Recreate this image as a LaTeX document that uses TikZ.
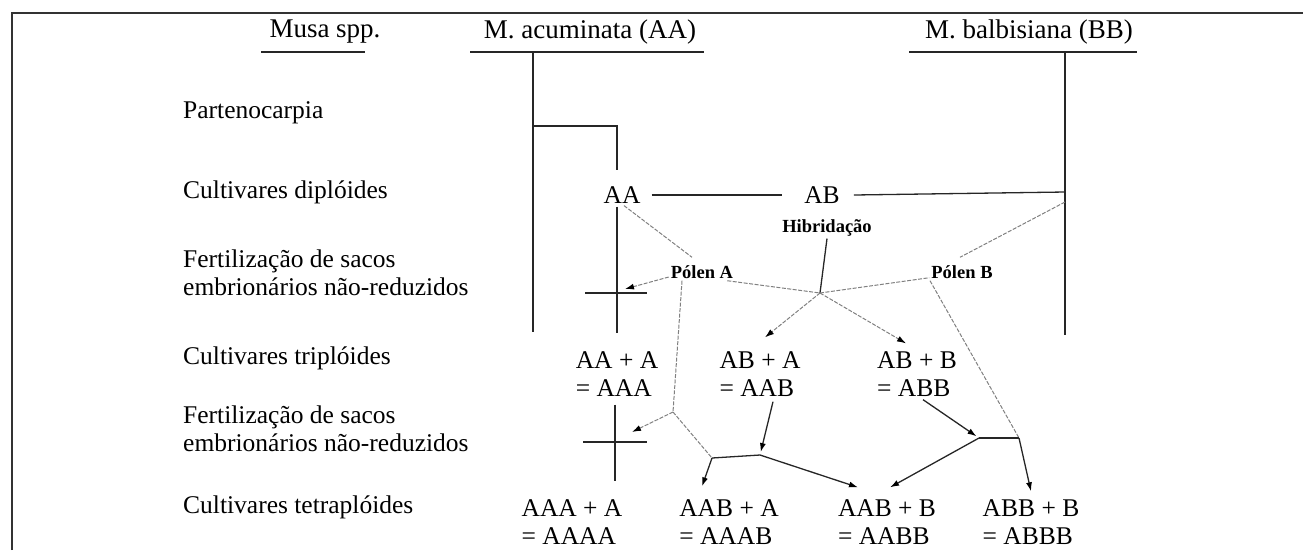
\documentclass[tikz,border=0pt]{standalone}
\usepackage{fontspec}
\setmainfont{Liberation Serif}
\usetikzlibrary{arrows.meta}
\begin{document}
\begin{tikzpicture}[x=1pt, y=-1pt,
  head/.style={inner sep=0pt, font=\fontsize{27}{30}\selectfont},
  rowlab/.style={anchor=west, inner sep=0pt, align=left, font=\fontsize{25.5}{28}\selectfont},
  geno/.style={inner sep=0pt, align=left, font=\fontsize{25.5}{28}\selectfont},
  note/.style={inner sep=0pt, font=\bfseries\fontsize{18.5}{20}\selectfont},
  link/.style={line width=1.3pt, black!85},
  pollen/.style={line width=1pt, black!50, dash pattern=on 4pt off 1.5pt},
  arr/.style={-{Latex[length=9pt,width=6pt,color=black]}},
  frame/.style={line width=2pt, black!80}]
\useasboundingbox (0,0) rectangle (1303,550);
% frame
\draw[frame] (12,550) -- (12,13) -- (1303,13);
% headers
\node[head] (hMusa) at (325,32) {Musa spp.};
\node[head] (hAcum) at (590,32) {M. acuminata (AA)};
\node[head] (hBalb) at (1029,32) {M. balbisiana (BB)};
\draw[link] (261,52) -- (365,52);
\draw[link] (470,52) -- (704,52);
\draw[link] (909,52) -- (1137,52);
% row labels
\node[rowlab] (lPart) at (183,113) {Partenocarpia};
\node[rowlab] (lDip)  at (183,192) {Cultivares diplóides};
\node[rowlab] (lFer1) at (183,273) {Fertilização de sacos\\embrionários não-reduzidos};
\node[rowlab] (lTri)  at (183,358) {Cultivares triplóides};
\node[rowlab] (lFer2) at (183,429) {Fertilização de sacos\\embrionários não-reduzidos};
\node[rowlab] (lTet)  at (183,507) {Cultivares tetraplóides};
% genotypes
\node[geno] (gAA) at (622,195) {AA};
\node[geno] (gAB) at (822,195) {AB};
\node[note] (hib)  at (827,228) {Hibridação};
\node[note] (polA) at (702,272) {Pólen A};
\node[note] (polB) at (962,272) {Pólen B};
\node[geno] (tAAA) at (617,374) {AA + A\\= AAA};
\node[geno] (tAAB) at (760,374) {AB + A\\= AAB};
\node[geno] (tABB) at (917,374) {AB + B\\= ABB};
\node[geno] (qAAAA) at (572,522) {AAA + A\\= AAAA};
\node[geno] (qAAAB) at (729,522) {AAB + A\\= AAAB};
\node[geno] (qAABB) at (887,522) {AAB + B\\= AABB};
\node[geno] (qABBB) at (1031,522) {ABB + B\\= ABBB};
% junctions
\coordinate (acTop) at (533,52);
\coordinate (acBot) at (533,332);
\coordinate (parL) at (533,126);
\coordinate (parR) at (617,126);
\coordinate (bbTop) at (1065,52);
\coordinate (bbBot) at (1065,335);
\coordinate (bbAB) at (1065,192);
\coordinate (bbPol) at (1065,202);
\coordinate (jHib) at (820,293);
\coordinate (c1) at (617,293);
\coordinate (c1tip) at (625,289);
\coordinate (c2) at (615,442);
\coordinate (c2tip) at (632,432);
\coordinate (jA) at (673,412);
\coordinate (jAA) at (712,458);
\coordinate (jAB) at (760,455);
\coordinate (jB1) at (979,438);
\coordinate (jB2) at (1019,438);
% parent lines
\draw[link] (acTop) -- (acBot);
\draw[link] (bbTop) -- (bbBot);
\draw[link] (parL) -- (parR) -- ([yshift=16pt]gAA.north -| parR);
\draw[link] ([yshift=-3pt]gAA.south -| parR) -- ([yshift=18pt]tAAA.north -| parR);
\draw[link] ([xshift=-32pt]c1) -- ([xshift=30pt]c1);
\draw[link] ([yshift=-8pt]tAAA.south -| c2) -- ([yshift=18pt]qAAAA.north -| c2);
\draw[link] ([xshift=-32pt]c2) -- ([xshift=32pt]c2);
\draw[link] ([xshift=11pt]gAA.east) -- ([xshift=-22pt]gAB.west);
\draw[link] ([xshift=14pt]gAB.east) -- (bbAB);
\draw[link] ([yshift=-2pt]hib.south) -- (jHib);
% pollen
\draw[pollen] ([xshift=2pt,yshift=-2pt]gAA.south) -- ([xshift=-10pt,yshift=8pt]polA.north);
\draw[pollen] (bbPol) -- ([xshift=-2pt,yshift=8pt]polB.north);
\draw[pollen, arr] ([xshift=-2pt,yshift=-5pt]polA.west) -- (c1tip);
\draw[pollen] ([xshift=-6pt,yshift=-2pt]polA.south east) -- (jHib);
\draw[pollen] (jHib) -- ([xshift=-2pt,yshift=1pt]polB.south west);
\draw[pollen] ([xshift=-20pt,yshift=-2pt]polA.south) -- (jA);
\draw[pollen, arr] (jA) -- (c2tip);
\draw[pollen] (jA) -- (jAA);
\draw[pollen] ([xshift=-32pt,yshift=-2pt]polB.south) -- (jB2);
% crosses
\draw[pollen, arr] (jHib) -- ([xshift=5pt,yshift=14pt]tAAB.north);
\draw[pollen, arr] (jHib) -- ([xshift=-11pt,yshift=8pt]tABB.north);
\draw[link] (jAA) -- (jAB);
\draw[link, arr] (jAA) -- ([xshift=-27pt,yshift=13pt]qAAAB.north);
\draw[link, arr, shorten >=3pt] ([xshift=13pt,yshift=-5pt]tAAB.south) -- (jAB);
\draw[link, arr] (jAB) -- ([xshift=-29pt,yshift=12pt]qAABB.north);
\draw[link, arr, shorten >=3pt] ([xshift=6pt,yshift=-3pt]tABB.south) -- (jB1);
\draw[link] (jB1) -- (jB2);
\draw[link, arr] (jB1) -- ([xshift=3pt,yshift=12pt]qAABB.north);
\draw[link, arr] (jB2) -- ([yshift=8pt]qABBB.north);
\end{tikzpicture}
\end{document}
